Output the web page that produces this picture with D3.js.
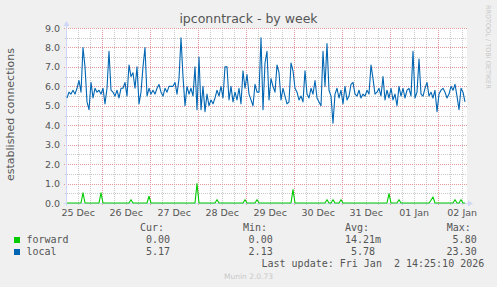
<!DOCTYPE html>
<html>
<head>
<meta charset="utf-8">
<script src="https://cdn.jsdelivr.net/npm/d3@7"></script>
<style>
  html, body { margin: 0; padding: 0; background: #f0f0f0; }
  svg { display: block; }
  text { font-family: "DejaVu Sans", sans-serif; fill: #555; }
  .mono { font-family: "DejaVu Sans Mono", monospace; font-size: 10px; white-space: pre; }
</style>
</head>
<body>
<script>
// hourly samples, oldest first
const localValues = [
  5.4, 5.7, 5.6, 5.8, 5.6, 5.9, 6.3, 5.7, 8.0, 7.0,
  5.2, 4.8, 6.2, 5.4, 5.9, 5.7, 5.8, 5.6, 5.9, 5.1,
  5.9, 7.8, 5.8, 5.7, 5.5, 5.8, 5.4, 5.9, 5.9, 6.2,
  5.5, 7.1, 6.5, 6.7, 5.9, 7.0, 5.1, 5.7, 7.0, 8.0,
  5.5, 5.9, 5.6, 5.8, 5.6, 5.9, 6.1, 5.7, 5.5, 5.9,
  5.7, 6.0, 6.0, 6.0, 6.2, 5.6, 6.4, 8.5, 6.5, 5.0,
  6.0, 5.6, 5.9, 5.5, 7.0, 4.8, 7.5, 4.8, 6.0, 4.7,
  5.6, 5.0, 5.3, 5.1, 5.4, 5.8, 5.5, 6.0, 5.4, 7.0,
  7.0, 5.3, 6.0, 5.2, 5.7, 5.3, 5.9, 5.1, 6.8, 5.9,
  6.6, 5.6, 5.3, 5.0, 6.1, 5.7, 5.7, 8.5, 4.8, 7.2,
  7.8, 5.3, 6.4, 6.0, 5.7, 7.1, 6.7, 5.3, 5.9, 5.5,
  5.1, 5.2, 7.2, 6.8, 5.9, 5.7, 5.3, 5.5, 5.2, 6.8,
  5.6, 5.4, 5.9, 5.6, 6.3, 5.4, 5.2, 5.0, 7.8, 6.0,
  8.2, 5.8, 5.5, 4.1, 5.6, 5.9, 5.4, 5.8, 5.1, 6.0,
  5.3, 5.5, 6.1, 6.2, 5.6, 5.5, 5.8, 5.4, 5.6, 5.5,
  5.8, 5.6, 7.1, 6.4, 5.6, 5.7, 5.9, 5.5, 6.5, 5.3,
  5.8, 5.4, 5.9, 5.3, 5.6, 5.0, 6.0, 5.5, 5.9, 5.4,
  5.8, 5.9, 5.5, 7.8, 5.4, 5.7, 7.4, 5.6, 5.5, 5.9,
  6.2, 5.5, 5.7, 5.4, 5.8, 4.7, 5.6, 5.8, 5.9, 5.7,
  5.4, 5.6, 6.0, 5.8, 6.1, 5.5, 4.8, 5.9, 5.7, 5.2
];

const forwardValues = [
  0, 0, 0, 0, 0, 0, 0, 0, 0.52, 0,
  0, 0, 0, 0, 0, 0, 0, 0.52, 0, 0,
  0, 0, 0, 0, 0, 0, 0, 0, 0, 0,
  0, 0, 0.17, 0, 0, 0, 0, 0, 0, 0,
  0, 0.35, 0, 0, 0, 0, 0, 0, 0, 0,
  0, 0, 0, 0, 0, 0, 0, 0, 0, 0,
  0, 0, 0, 0, 0, 1.0, 0, 0, 0, 0,
  0, 0, 0, 0, 0, 0.17, 0, 0, 0, 0,
  0, 0, 0, 0, 0, 0, 0, 0, 0, 0.17,
  0, 0, 0, 0, 0, 0.17, 0, 0, 0, 0,
  0, 0, 0, 0, 0, 0, 0, 0, 0, 0,
  0, 0, 0, 0.69, 0, 0, 0, 0, 0, 0,
  0, 0, 0, 0, 0, 0, 0, 0, 0, 0,
  0.17, 0, 0, 0.17, 0, 0, 0, 0.17, 0, 0,
  0, 0, 0, 0, 0, 0, 0, 0, 0, 0,
  0, 0, 0, 0, 0, 0, 0, 0, 0, 0,
  0, 0.48, 0, 0, 0, 0, 0.17, 0, 0, 0,
  0, 0, 0, 0, 0, 0, 0, 0, 0, 0,
  0, 0, 0.14, 0.31, 0, 0, 0, 0, 0, 0,
  0, 0, 0, 0, 0.17, 0, 0, 0.17, 0, 0
];

const yTicks = [0, 1, 2, 3, 4, 5, 6, 7, 8, 9];
const seriesNames = ["forward", "local"];
const curValues = ["0.00", "5.17"];
const minValues = ["0.00", "2.13"];
const avgValues = ["14.21m", "5.78"];
const maxValues = ["5.80", "23.30"];
const lastUpdate = "Last update: Fri Jan  2 14:25:10 2026";
const titleText = "ipconntrack - by week";
const yLabel = "established connections";

const seriesColors = ["#00cc00", "#0066b3"];
const hourMs = 3600 * 1000;
const endTime = Date.UTC(2026, 0, 2, 14, 40);
const startTime = endTime - 200 * hourMs;

const width = 497, height = 287;
const plot = {left: 67, right: 467, top: 28, bottom: 203};

const svg = d3.select("body").
append("svg").
attr("width", width).
attr("height", height);

const x = d3.scaleUtc().
domain([new Date(startTime), new Date(endTime)]).
range([plot.left, plot.right]);

const y = d3.scaleLinear().
domain([0, 9]).
range([plot.bottom, plot.top]);

const crisp = v => Math.round(v) + 0.5;

// canvas
svg.append("rect").
attr("x", plot.left).
attr("y", plot.top).
attr("width", plot.right - plot.left).
attr("height", plot.bottom - plot.top).
attr("fill", "#ffffff");

// grid
const grid = svg.append("g").attr("shape-rendering", "crispEdges").attr("stroke-dasharray", "1,1");
const midnights = d3.utcDay.range(new Date(startTime), new Date(endTime));
const sixHours = d3.utcHour.every(6).range(new Date(startTime), new Date(endTime)).
filter(d => d.getUTCHours() !== 0);
const halfSteps = d3.range(0.5, 9, 1);

grid.selectAll(".vminor").data(sixHours).enter().append("line").
attr("x1", d => crisp(x(d))).attr("x2", d => crisp(x(d))).
attr("y1", plot.top).attr("y2", plot.bottom + 2).
attr("stroke", "#c8c8c8");
grid.selectAll(".hminor").data(halfSteps).enter().append("line").
attr("x1", plot.left - 2).attr("x2", plot.right).
attr("y1", d => crisp(y(d))).attr("y2", d => crisp(y(d))).
attr("stroke", "#c8c8c8");
grid.selectAll(".vmajor").data(midnights).enter().append("line").
attr("x1", d => crisp(x(d))).attr("x2", d => crisp(x(d))).
attr("y1", plot.top).attr("y2", plot.bottom + 3).
attr("stroke", "#e29a9a");
grid.selectAll(".hmajor").data(yTicks.slice(1)).enter().append("line").
attr("x1", plot.left - 3).attr("x2", plot.right).
attr("y1", d => crisp(y(d))).attr("y2", d => crisp(y(d))).
attr("stroke", "#e29a9a");

// axis lines + arrows
const axisColor = "#cfd6f8";
svg.append("line").
attr("x1", plot.left - 3).attr("x2", plot.right + 3).
attr("y1", plot.bottom + 0.5).attr("y2", plot.bottom + 0.5).
attr("stroke", axisColor).attr("shape-rendering", "crispEdges");
svg.append("line").
attr("x1", plot.left - 0.5).attr("x2", plot.left - 0.5).
attr("y1", plot.bottom + 3).attr("y2", plot.top - 3).
attr("stroke", axisColor).attr("shape-rendering", "crispEdges");
svg.append("path").
attr("d", `M${plot.right + 6},${plot.bottom + 0.5}L${plot.right + 1},${plot.bottom - 2.5}L${plot.right + 1},${plot.bottom + 3.5}Z`).
attr("fill", axisColor);
svg.append("path").
attr("d", `M${plot.left - 0.5},${plot.top - 7}L${plot.left - 3.5},${plot.top - 2}L${plot.left + 2.5},${plot.top - 2}Z`).
attr("fill", axisColor);

// tick labels
const yAxis = d3.axisLeft(y).tickValues(yTicks).tickFormat(d3.format(".1f")).tickSize(0).tickPadding(7);
const gy = svg.append("g").attr("transform", `translate(${plot.left},0)`).call(yAxis);

const noonDays = d3.utcDay.range(d3.utcDay.floor(new Date(startTime)), new Date(endTime)).
map(d => d3.utcHour.offset(d, 12)).
filter(d => d >= startTime && d <= endTime);
const xAxis = d3.axisBottom(x).tickValues(noonDays).tickFormat(d3.utcFormat("%d %b")).tickSize(0).tickPadding(6);
const gx = svg.append("g").attr("transform", `translate(0,${plot.bottom})`).call(xAxis);

[gx, gy].forEach(g => {
  g.select(".domain").remove();
  g.selectAll("text").
  attr("font-family", "DejaVu Sans, sans-serif").
  attr("font-size", "9.5px").
  attr("fill", "#555");
});

// series
const line = d3.line().
x((d, i) => x(new Date(startTime + i * hourMs))).
y(d => y(d));

[forwardValues, localValues].forEach((values, k) => {
  svg.append("path").
  datum(values).
  attr("d", line).
  attr("fill", "none").
  attr("stroke", seriesColors[k]).
  attr("stroke-width", 1.1).
  attr("stroke-linejoin", "round");
});

// titles
svg.append("text").
attr("x", width / 2).attr("y", 23).
attr("text-anchor", "middle").
attr("font-size", "12.5px").
text(titleText);

svg.append("text").
attr("transform", "translate(14,114.5) rotate(-90)").
attr("text-anchor", "middle").
attr("font-size", "11px").
text(yLabel);

svg.append("text").
attr("transform", "translate(486,5) rotate(90)").
attr("font-size", "6.5px").
style("fill", "#c8c8c8").
text("RRDTOOL / TOBI OETIKER");

// legend
const headers = [["Cur:", 140], ["Min:", 243], ["Avg:", 345], ["Max:", 446.7]];
svg.selectAll(".hdr").data(headers).enter().append("text").
attr("class", "mono").
attr("x", d => d[0] && d[1]).
attr("y", 231).
text(d => d[0]);

const pad = v => /\d$/.test(v) ? v + "\u00a0" : v;
seriesNames.forEach((name, i) => {
  const rowY = 243 + i * 12;
  svg.append("rect").
  attr("x", 14).attr("y", rowY - 6).
  attr("width", 6).attr("height", 6).
  attr("fill", seriesColors[i]);
  svg.append("text").attr("class", "mono").attr("x", 26.5).attr("y", rowY).text(name);
  svg.append("text").attr("class", "mono").attr("x", 170).attr("y", rowY).attr("text-anchor", "end").text(curValues[i]);
  svg.append("text").attr("class", "mono").attr("x", 272.7).attr("y", rowY).attr("text-anchor", "end").text(minValues[i]);
  svg.append("text").attr("class", "mono").attr("x", 381).attr("y", rowY).attr("text-anchor", "end").text(pad(avgValues[i]));
  svg.append("text").attr("class", "mono").attr("x", 476.7).attr("y", rowY).attr("text-anchor", "end").text(maxValues[i]);
});

svg.append("text").
attr("class", "mono").
attr("x", 261.5).attr("y", 267).
text(lastUpdate);

svg.append("text").
attr("x", width / 2).attr("y", 279).
attr("text-anchor", "middle").
attr("font-size", "7.5px").
style("fill", "#c8c8c8").
text("Munin 2.0.73");
</script>
</body>
</html>
